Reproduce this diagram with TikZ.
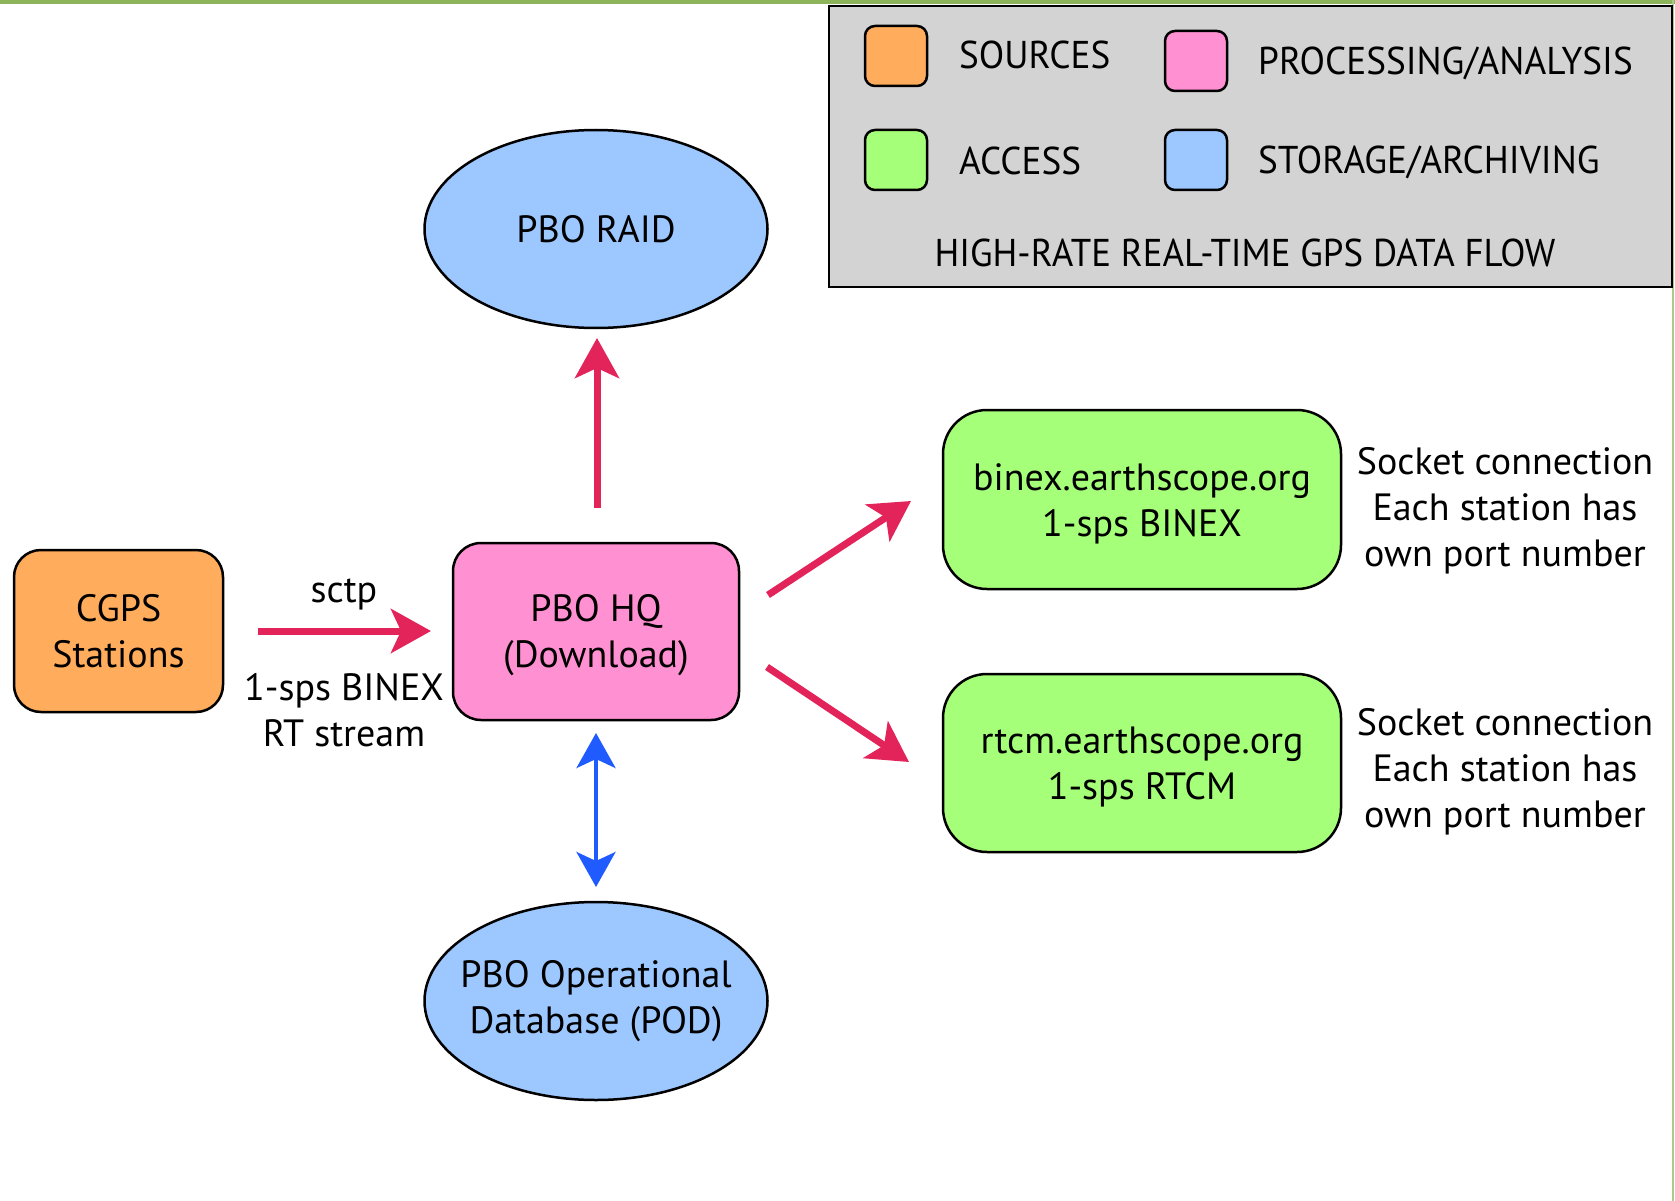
\documentclass[tikz,border=0pt]{standalone}
\usepackage{fontspec}
\setmainfont{PT Sans}
\usetikzlibrary{arrows.meta,shapes.geometric}
\definecolor{srcC}{HTML}{FFAD5C}
\definecolor{procC}{HTML}{FF90D2}
\definecolor{accC}{HTML}{A6FF78}
\definecolor{stoC}{HTML}{9CC8FF}
\definecolor{legC}{HTML}{D3D3D3}
\definecolor{redA}{HTML}{E3245A}
\definecolor{blueA}{HTML}{1F5BFF}
\definecolor{frameG}{HTML}{8CB45A}
\newcommand\mybody{\fontsize{38}{46}\selectfont}
\newcommand\mylegend{\fontsize{38}{46}\selectfont}
\newcommand\lowstrut{\rule{0pt}{35pt}}
\begin{document}
\begin{tikzpicture}[x=1pt,y=-1pt,
  box/.style={draw=black, line width=2.5pt, align=center, inner sep=0pt, font=\mybody},
  rbox/.style={box, rectangle, rounded corners=#1},
  oval/.style={box, ellipse, fill=stoC, minimum width=343pt, minimum height=198pt, inner xsep=-40pt},
  swatch/.style={draw=black, line width=2.5pt, rounded corners=10pt, minimum width=62pt, minimum height=60pt, inner sep=0pt},
  legtext/.style={font=\mylegend, inner sep=0pt},
  lbl/.style={font=\mybody, align=center, inner sep=0pt},
  redarrow/.style={draw=redA, line width=7pt, -{Stealth[length=40pt,width=44pt,inset=10pt]}},
  bluearrow/.style={draw=blueA, line width=4pt, {Stealth[length=35pt,width=39pt,inset=9pt]}-{Stealth[length=35pt,width=39pt,inset=9pt]}}
]
\useasboundingbox (0,0) rectangle (1675,1201);
\fill[white] (0,0) rectangle (1675,1201);
\draw[frameG, line width=4pt] (0,2) -- (1675,2);
\draw[frameG!70, line width=2pt] (1673,0) -- (1673,1201);

% legend
\node[draw=black, fill=legC, line width=2.5pt, minimum width=843pt, minimum height=281pt, inner sep=0pt] (legend) at (1250.5,146.5) {};
\node[swatch, fill=srcC] (swsrc) at (896,56) {};
\node[swatch, fill=procC] (swproc) at (1196,61) {};
\node[swatch, fill=accC] (swacc) at (896,160) {};
\node[swatch, fill=stoC] (swsto) at (1196,160) {};
\node[legtext, anchor=west] (tsrc) at (959,55) {\scalebox{0.98}[1.02]{SOURCES}};
\node[legtext, anchor=west] (tproc) at (1258,63) {\scalebox{0.98}[1.02]{PROCESSING/ANALYSIS}};
\node[legtext, anchor=west] (tacc) at (959,161) {\scalebox{0.98}[1.02]{ACCESS}};
\node[legtext, anchor=west] (tsto) at (1258,162) {\scalebox{0.98}[1.02]{STORAGE/ARCHIVING}};
\node[legtext] (ttitle) at (1245,253) {\scalebox{0.97}[1.02]{HIGH-RATE REAL-TIME GPS DATA FLOW}};

% main nodes
\node[rbox=27pt, fill=srcC, minimum width=209pt, minimum height=162pt] (cgps) at (118.5,631) {CGPS\\Stations};
\node[rbox=28pt, fill=procC, minimum width=286pt, minimum height=177pt] (hq) at (596,631.5) {\lowstrut PBO HQ\\(Download)};
\node[rbox=44pt, fill=accC, minimum width=398pt, minimum height=179pt] (binex) at (1142,499.5) {\lowstrut binex.earthscope.org\\1-sps BINEX};
\node[rbox=44pt, fill=accC, minimum width=398pt, minimum height=178pt] (rtcm) at (1142,763) {\lowstrut rtcm.earthscope.org\\1-sps RTCM};
\node[oval] (raid) at (596,229) {PBO RAID};
\node[oval] (pod) at (596,1001) {PBO Operational\\Database (POD)};

% labels
\node[lbl] (sctp) at (344,594) {sctp};
\node[lbl] (stream) at (344,710) {1-sps BINEX\\RT stream};
\node[lbl] (sock1) at (1505,511) {Socket connection\\Each station has\\own port number};
\node[lbl] (sock2) at (1505,772) {Socket connection\\Each station has\\own port number};

% connectors
\coordinate (a1s) at (258,631);
\coordinate (a1e) at (431,631);
\coordinate (a2s) at (597,508);
\coordinate (a2e) at (597,338);
\coordinate (a3s) at (768,595);
\coordinate (a3e) at (911,501);
\coordinate (a4s) at (767,667);
\coordinate (a4e) at (909,762);
\coordinate (b1s) at (596,733);
\coordinate (b1e) at (596,887);
\draw[redarrow] (a1s) -- (a1e);
\draw[redarrow] (a2s) -- (a2e);
\draw[redarrow] (a3s) -- (a3e);
\draw[redarrow] (a4s) -- (a4e);
\draw[bluearrow] (b1s) -- (b1e);
\end{tikzpicture}
\end{document}
